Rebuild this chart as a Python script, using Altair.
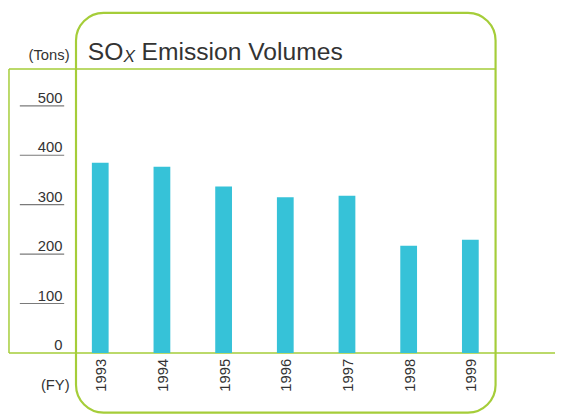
import altair as alt
import pandas as pd

# ---- data ----
years = ["1993", "1994", "1995", "1996", "1997", "1998", "1999"]
sox_tons = [385, 377, 337, 315, 318, 217, 229]
tick_values = [0, 100, 200, 300, 400, 500]
tick_labels = ["0", "100", "200", "300", "400", "500"]
title_main = "SO"
title_sub = "X"
title_rest = "Emission Volumes"
unit_label = "(Tons)"
fy_label = "(FY)"

FONT = "Liberation Sans"
GREEN = "#a5cd39"
BAR = "#36c2d8"
TEXT = "#333333"
TICK = "#7a7a7a"

bars_df = pd.DataFrame({"year": years, "tons": sox_tons})
ticks_df = pd.DataFrame({"v": tick_values, "label": tick_labels})
one = pd.DataFrame({"k": [0]})

x_scale = alt.Scale(domain=years, range=[62.3, 500.4], paddingInner=0, paddingOuter=0)
y_scale = alt.Scale(domain=[0, 500], range=[347, 96.3], nice=False, zero=True)

# frame
frame = alt.Chart(one).mark_rect(
    cornerRadius=28, fillOpacity=0, fill="white", stroke=GREEN, strokeWidth=2.2
).encode(x=alt.value(69), x2=alt.value(494.7), y=alt.value(2), y2=alt.value(407.5))

top_line = alt.Chart(one).mark_rule(color=GREEN, strokeWidth=1.5).encode(
    x=alt.value(1), x2=alt.value(494.7), y=alt.value(59)
)
left_line = alt.Chart(one).mark_rule(color=GREEN, strokeWidth=1.5).encode(
    x=alt.value(1), y=alt.value(59), y2=alt.value(347)
)
base_line = alt.Chart(ticks_df).transform_filter("datum.v == 0").mark_rule(
    color=GREEN, strokeWidth=1.5
).encode(y=alt.Y("v:Q", scale=y_scale, axis=None), x=alt.value(1), x2=alt.value(555))

# y ticks and labels
tick_rules = alt.Chart(ticks_df).transform_filter("datum.v > 0").mark_rule(
    color=TICK, strokeWidth=1.2
).encode(y=alt.Y("v:Q", scale=y_scale, axis=None), x=alt.value(12), x2=alt.value(57))

tick_text = alt.Chart(ticks_df).mark_text(
    align="right", baseline="alphabetic", dy=-3, fontSize=15, font=FONT, color=TEXT
).encode(y=alt.Y("v:Q", scale=y_scale, axis=None), x=alt.value(55.3), text="label:N")

# bars
bars = alt.Chart(bars_df).mark_bar(size=17, color=BAR).encode(
    x=alt.X("year:O", scale=x_scale, axis=None),
    y=alt.Y("tons:Q", scale=y_scale, axis=None),
)

year_text = alt.Chart(bars_df).mark_text(
    angle=270, align="right", baseline="middle", dy=1, fontSize=15, font=FONT, color=TEXT
).encode(x=alt.X("year:O", scale=x_scale, axis=None), y=alt.value(353), text="year:N")

# titles / units
unit_text = alt.Chart(pd.DataFrame({"t": [unit_label]})).mark_text(
    align="right", baseline="alphabetic", fontSize=15, font=FONT, color=TEXT
).encode(x=alt.value(62.5), y=alt.value(50), text="t:N")
fy_text = alt.Chart(pd.DataFrame({"t": [fy_label]})).mark_text(
    align="right", baseline="alphabetic", fontSize=15, font=FONT, color=TEXT
).encode(x=alt.value(62.5), y=alt.value(385), text="t:N")

t1 = alt.Chart(pd.DataFrame({"t": [title_main]})).mark_text(
    align="left", baseline="alphabetic", fontSize=25, font=FONT, color=TEXT
).encode(x=alt.value(81), y=alt.value(50), text="t:N")
t2 = alt.Chart(pd.DataFrame({"t": [title_sub]})).mark_text(
    align="left", baseline="alphabetic", fontSize=17.5, font=FONT, fontStyle="italic", color=TEXT
).encode(x=alt.value(117.1), y=alt.value(51.5), text="t:N")
t3 = alt.Chart(pd.DataFrame({"t": [title_rest]})).mark_text(
    align="left", baseline="alphabetic", fontSize=25, font=FONT, color=TEXT
).encode(x=alt.value(135.5), y=alt.value(50), text="t:N")

chart = alt.layer(
    frame, top_line, left_line, base_line, tick_rules, tick_text, bars, year_text,
    unit_text, fy_text, t1, t2, t3
).properties(
    width=555, height=408, padding=0, autosize=alt.AutoSizeParams(type="none")
).configure_view(strokeWidth=0)

chart.save("out.html", embed_options={"renderer": "svg", "actions": False})
